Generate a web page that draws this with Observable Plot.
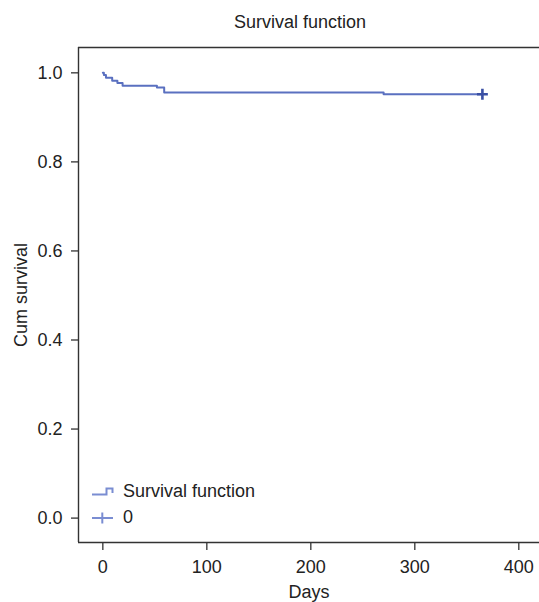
<!DOCTYPE html>
<html>
<head>
<meta charset="utf-8">
<script src="https://cdn.jsdelivr.net/npm/d3@7"></script>
<script src="https://cdn.jsdelivr.net/npm/@observablehq/plot@0.6"></script>
<style>
  body { margin: 0; background: white; font-family: "Liberation Sans", Arial, sans-serif; color: #222; }
  #wrap { position: relative; width: 539px; height: 602px; overflow: hidden; }
  #title { width: 539px; height: 40px; box-sizing: border-box; padding-left: 61px; padding-top: 12px; text-align: center; font-size: 18px; line-height: 20px; color: #222; }
  #legend { position: absolute; left: 90px; top: 479px; font-size: 18px; color: #222; }
  .row { display: flex; align-items: center; height: 25.7px; }
  .row svg { margin-right: 9px; }
</style>
</head>
<body>
<div id="wrap">
  <div id="title">Survival function</div>
  <div id="chart"></div>
  <div id="legend"></div>
</div>
<script>
// Data (Kaplan–Meier estimate)
const days     = [0, 1, 3, 9, 14, 19, 52, 59, 270, 365];
const survival = [1.0, 0.995, 0.989, 0.982, 0.977, 0.971, 0.967, 0.956, 0.952, 0.952];
const censorDays = [365];
const censorSurvival = [0.952];
const xTicks = [0, 100, 200, 300, 400];
const yTicks = [0, 0.2, 0.4, 0.6, 0.8, 1.0];
const legendLabels = ["Survival function", "0"];

const xDomain = [-23.4, 419.9];
const yDomain = [-0.0548, 1.0569];

const lineColor = "#5a70c0";
const censorColor = "#3a50a4";
const legendColor = "#7a8dd2";
const axisColor = "#333";

const curve = days.map((d, i) => ({day: d, s: survival[i]}));
const censored = censorDays.map((d, i) => ({day: d, s: censorSurvival[i]}));

const chart = Plot.plot({
  width: 539,
  height: 562,
  marginLeft: 78,
  marginRight: 0,
  marginTop: 7,
  marginBottom: 60,
  style: {fontFamily: "'Liberation Sans', Arial, sans-serif", fontSize: "18px", color: "#222", background: "white", overflow: "visible"},
  x: {domain: xDomain},
  y: {domain: yDomain},
  marks: [
    Plot.axisX({ticks: xTicks, tickSize: 8, tickPadding: 10, stroke: axisColor, strokeWidth: 1.3, label: "Days", labelAnchor: "center", labelOffset: 55, labelArrow: "none"}),
    Plot.axisY({ticks: yTicks, tickFormat: ".1f", tickSize: 7, tickPadding: 9, stroke: axisColor, strokeWidth: 1.3, label: "Cum survival", labelAnchor: "center", labelOffset: 64, labelArrow: "none"}),
    Plot.ruleX([xDomain[0]], {stroke: axisColor, strokeWidth: 1.4}),
    Plot.ruleY([yDomain[0], yDomain[1]], {stroke: axisColor, strokeWidth: 1.4}),
    Plot.line(curve, {x: "day", y: "s", curve: "step-after", stroke: lineColor, strokeWidth: 2}),
    Plot.dot(censored, {x: "day", y: "s", symbol: "plus", r: 3.6, stroke: censorColor, strokeWidth: 2.6})
  ]
});
document.getElementById("chart").appendChild(chart);

// Legend
const legend = document.getElementById("legend");
const icons = [
  `<svg width="24" height="14"><path d="M2,9.5 H16.5 V3.5 H22.5 V8" fill="none" stroke="${legendColor}" stroke-width="2"/></svg>`,
  `<svg width="24" height="14"><path d="M2,7 H23 M12.3,1.5 V12.5" fill="none" stroke="${legendColor}" stroke-width="2"/></svg>`
];
legendLabels.forEach((lab, i) => {
  const row = document.createElement("div");
  row.className = "row";
  row.innerHTML = icons[i] + `<span>${lab}</span>`;
  legend.appendChild(row);
});
</script>
</body>
</html>
